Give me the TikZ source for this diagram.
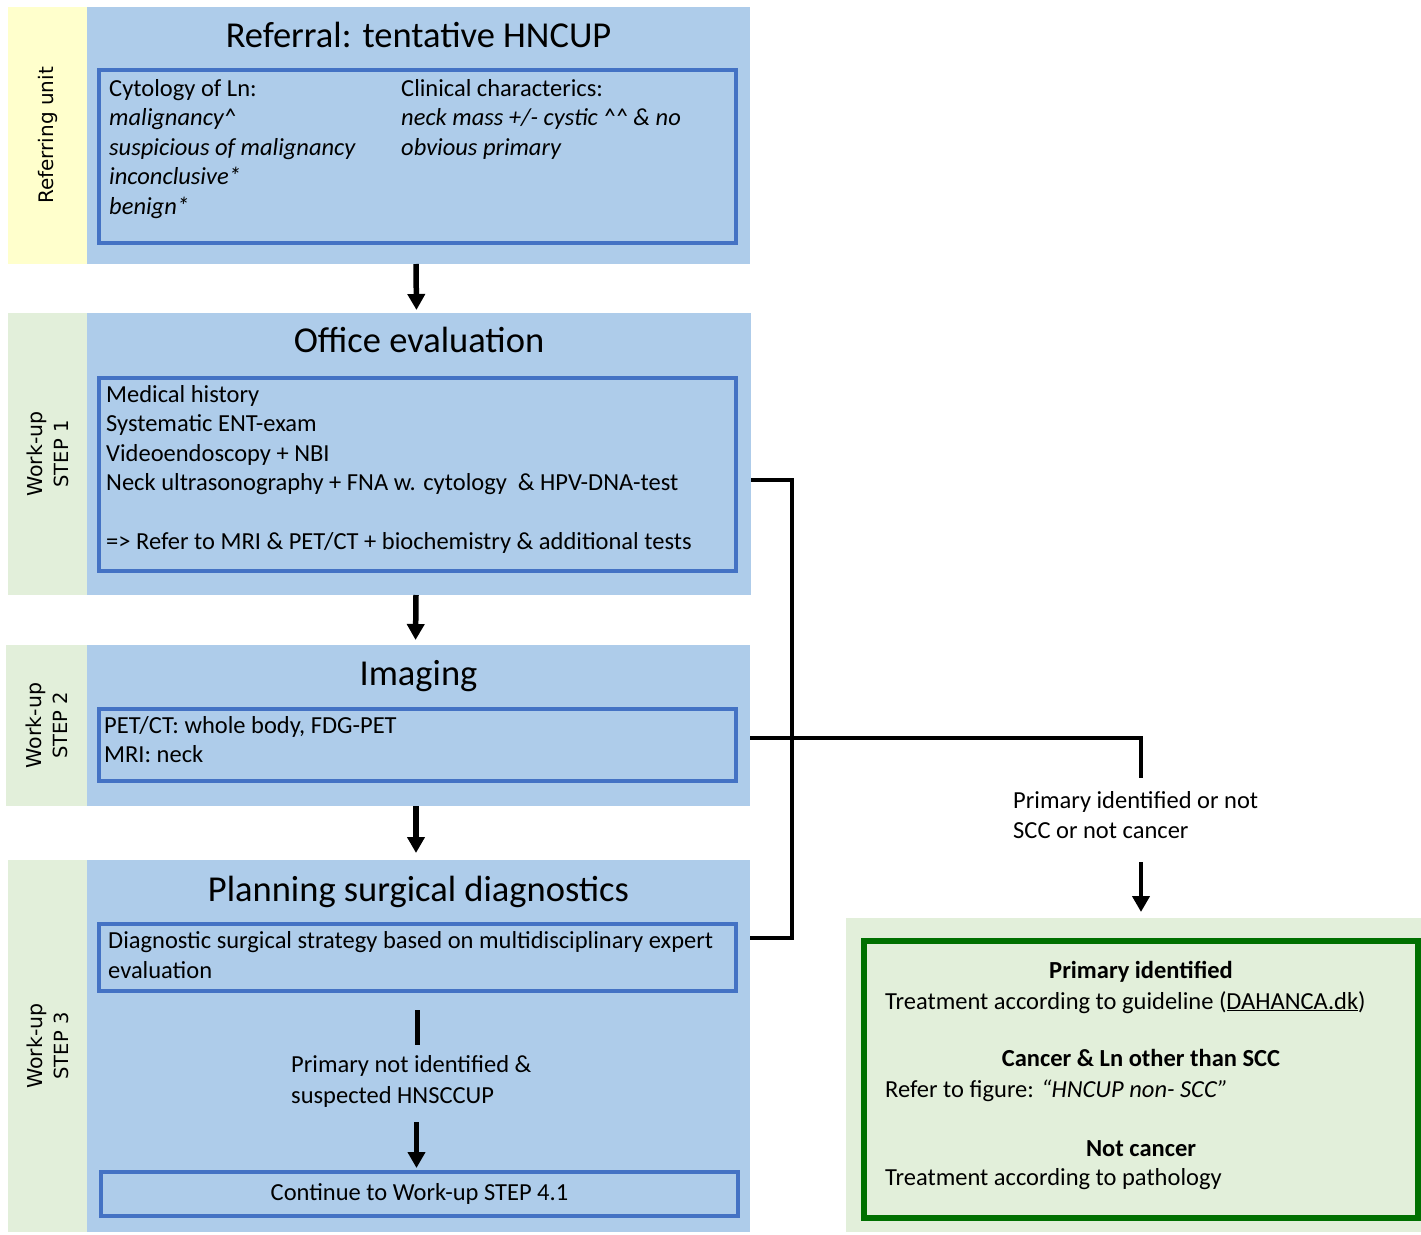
\documentclass[tikz,border=0pt]{standalone}
\usepackage{fontspec}
\setmainfont{Carlito}
\newfontfamily\sidefont{DejaVu Sans}
\usetikzlibrary{arrows.meta}

\definecolor{panelblue}{RGB}{174,204,234}
\definecolor{boxblue}{RGB}{68,114,196}
\definecolor{unityellow}{RGB}{255,255,204}
\definecolor{stepgreen}{RGB}{226,239,218}
\definecolor{okgreen}{RGB}{0,112,0}

\tikzset{
  panel/.style={fill=panelblue, anchor=north west, inner sep=0pt, outer sep=0pt},
  strip/.style={anchor=north west, inner sep=0pt, outer sep=0pt},
  stepbox/.style={draw=boxblue, line width=4.5pt, anchor=north west, inner sep=0pt, outer sep=0pt},
  heading/.style={anchor=base, font=\fontsize{36.5}{42}\selectfont},
  body/.style={anchor=base west, align=left, inner sep=0pt, font=\fontsize{24.5}{29.5}\selectfont},
  boldline/.style={anchor=base, inner sep=0pt, font=\fontsize{24.5}{29.5}\selectfont\bfseries},
  sidelabel/.style={rotate=90, align=center, inner sep=0pt, font=\sidefont\fontsize{20.5}{26}\selectfont},
  flow/.style={line width=5.5pt, -{Triangle[length=16pt,width=17pt]}},
  link/.style={line width=3.5pt},
}

\begin{document}
\begin{tikzpicture}[x=1pt,y=-1pt]
  \useasboundingbox (0,0) rectangle (1421,1234);

  % referral (multi-line texts sit on the baseline of their last line)
  \node[strip, fill=unityellow, minimum width=79pt, minimum height=257pt] (refunit) at (8,7) {};
  \node[sidelabel, font=\sidefont\fontsize{20}{26}\selectfont] (refunitlabel) at (refunit.center) {Referring unit};
  \node[panel, minimum width=663pt, minimum height=257pt] (ref) at (87,7) {};
  \node[heading] (reftitle) at ([yshift=-40pt]ref.north) {Referral: tentative HNCUP};
  \node[stepbox, minimum width=637pt, minimum height=173pt] (refbox) at (99,70) {};
  \node[body] (cytology) at (109,214) {Cytology of Ln:\\
    \textit{malignancy\textasciicircum}\\
    \textit{suspicious of malignancy}\\
    \textit{inconclusive*}\\
    \textit{benign*}};
  \node[body] (clinical) at (401,155) {Clinical characterics:\\
    \textit{neck mass +/- cystic \textasciicircum\textasciicircum\ \& no}\\
    \textit{obvious primary}};

  % work-up step 1
  \node[strip, fill=stepgreen, minimum width=79pt, minimum height=282pt] (step1) at (8,313) {};
  \node[sidelabel] (step1label) at (step1.center) {Work-up\\ {\fontsize{19.5}{26}\selectfont STEP 1}};
  \node[panel, minimum width=664pt, minimum height=282pt] (office) at (87,313) {};
  \node[heading] (officetitle) at ([yshift=-39pt]office.north) {Office evaluation};
  \node[stepbox, minimum width=637pt, minimum height=193pt] (officebox) at (99,378) {};
  \node[body] (officetext) at (106,549.5) {Medical history\\
    Systematic ENT-exam\\
    Videoendoscopy + NBI\\
    Neck ultrasonography + FNA w. cytology \ \& HPV-DNA-test\\[29.5pt]
    => Refer to MRI \& PET/CT + biochemistry \& additional tests};

  % work-up step 2
  \node[strip, fill=stepgreen, minimum width=81pt, minimum height=161pt] (step2) at (6,645) {};
  \node[sidelabel] (step2label) at (step2.center) {Work-up\\ {\fontsize{19.5}{26}\selectfont STEP 2}};
  \node[panel, minimum width=663pt, minimum height=161pt] (img) at (87,645) {};
  \node[heading] (imgtitle) at ([yshift=-40pt]img.north) {Imaging};
  \node[stepbox, minimum width=637pt, minimum height=72pt] (imgbox) at (99,709) {};
  \node[body] (imgtext) at (104,762.5) {PET/CT: whole body, FDG-PET\\ MRI: neck};

  % work-up step 3
  \node[strip, fill=stepgreen, minimum width=79pt, minimum height=372pt] (step3) at (8,860) {};
  \node[sidelabel] (step3label) at (step3.center) {Work-up\\ {\fontsize{19.5}{26}\selectfont STEP 3}};
  \node[panel, minimum width=663pt, minimum height=372pt] (plan) at (87,860) {};
  \node[heading] (plantitle) at ([yshift=-41pt]plan.north) {Planning surgical diagnostics};
  \node[stepbox, minimum width=637pt, minimum height=67pt] (diag) at (99,924) {};
  \node[body] (diagtext) at (108,978) {Diagnostic surgical strategy based on multidisciplinary expert\\ evaluation};
  \node[body, font=\fontsize{24.5}{31}\selectfont] (notfound) at (291,1103) {Primary not identified \&\\ suspected HNSCCUP};
  \node[stepbox, minimum width=637pt, minimum height=44pt, font=\fontsize{24.5}{29.5}\selectfont] (cont) at (101,1172) {Continue to Work-up STEP 4.1};

  % outcome
  \node[strip, fill=stepgreen, minimum width=575pt, minimum height=314pt] (result) at (846,918) {};
  \node[draw=okgreen, line width=6pt, anchor=north west, inner sep=0pt, outer sep=0pt, minimum width=554pt, minimum height=277pt] (resultbox) at (864,941) {};
  \node[boldline] (primhead) at (1141,978) {Primary identified};
  \node[body] (primtext) at (885,1009) {Treatment according to guideline (\underline{DAHANCA.dk})};
  \node[boldline] (otherhead) at (1141,1066) {Cancer \& Ln other than SCC};
  \node[body] (othertext) at (885,1097) {Refer to figure: \textit{“HNCUP non- SCC”}};
  \node[boldline] (nothead) at (1141,1156) {Not cancer};
  \node[body] (nottext) at (885,1185) {Treatment according to pathology};
  \node[body, font=\fontsize{24.5}{30}\selectfont] (foundlabel) at (1013,838) {Primary identified or not\\ SCC or not cancer};

  % connectors
  \draw[flow, shorten >=3pt] ([xshift=-2.5pt]ref.south) -- ([xshift=-2.5pt]office.north);
  \draw[flow, shorten >=5pt] ([xshift=-3pt]office.south) -- ([xshift=-3pt]img.north);
  \draw[flow, shorten >=7pt] ([xshift=-2.5pt]img.south) -- ([xshift=-2.5pt]plan.north);
  \draw[link] ([yshift=-26pt]office.east) -- ++(41,0) |- ([yshift=108pt]plan.east);
  \coordinate (split) at (1141,778);
  \coordinate (resin) at (1141,862);
  \draw[link] ([yshift=-12.5pt]img.east) -| (split);
  \draw[flow, line width=4.5pt, shorten >=6pt] (resin) -- (resin |- result.north);
  \draw[line width=4.5pt] ([yshift=-19pt]diag.south) -- ++(0,35);
  \draw[flow, shorten >=4pt] ([xshift=-3pt,yshift=50pt]cont.north) -- ([xshift=-3pt]cont.north);
\end{tikzpicture}
\end{document}
